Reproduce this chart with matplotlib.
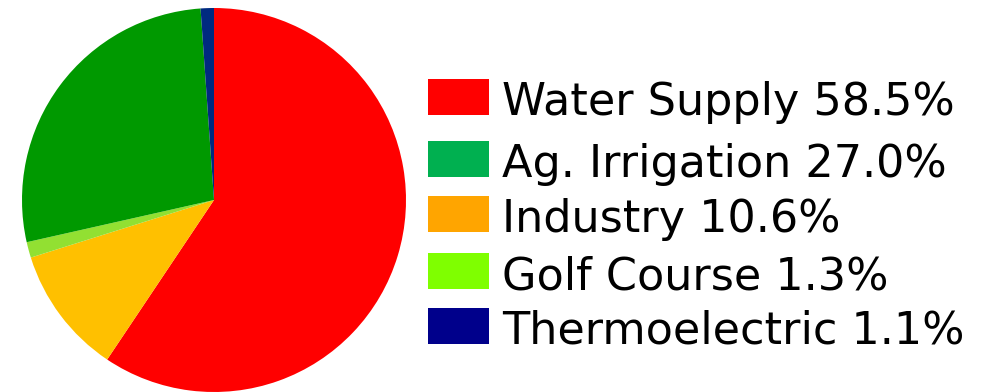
import matplotlib.pyplot as plt
from matplotlib.patches import Rectangle

labels = ["Water Supply", "Ag. Irrigation", "Industry", "Golf Course", "Thermoelectric"]
shares = [58.5, 27.0, 10.6, 1.3, 1.1]
# pie slices go clockwise from 12 o'clock in this order
pie_order = [0, 2, 3, 1, 4]
pie_colors = ["#FF0000", "#FFC000", "#92E032", "#009900", "#002A80"]
legend_colors = ["#FF0000", "#00B050", "#FFA500", "#7FFF00", "#00008B"]

W, H = 993, 392
fig = plt.figure(figsize=(W / 100, H / 100), dpi=100)

cx, cy, r = 214, 200, 192
ax = fig.add_axes([(cx - r) / W, (H - cy - r) / H, 2 * r / W, 2 * r / H])
ax.pie([shares[i] for i in pie_order], colors=pie_colors, startangle=90,
       counterclock=False, radius=1, wedgeprops=dict(linewidth=0))
ax.set_xlim(-1, 1)
ax.set_ylim(-1, 1)
ax.set_aspect("auto")
ax.axis("off")

# legend drawn in pixel coordinates
lax = fig.add_axes([0, 0, 1, 1])
lax.set_xlim(0, W)
lax.set_ylim(H, 0)
lax.axis("off")
box_top = [79, 141, 196, 253, 308]
for i, lab in enumerate(labels):
    y = box_top[i]
    lax.add_patch(Rectangle((428, y), 61, 36, color=legend_colors[i], lw=0))
    lax.text(502, y + 36, f"{lab} {shares[i]:.1f}%", fontsize=32, va="baseline",
             ha="left", family="DejaVu Sans", color="black")

fig.savefig("out.png", dpi=100)
